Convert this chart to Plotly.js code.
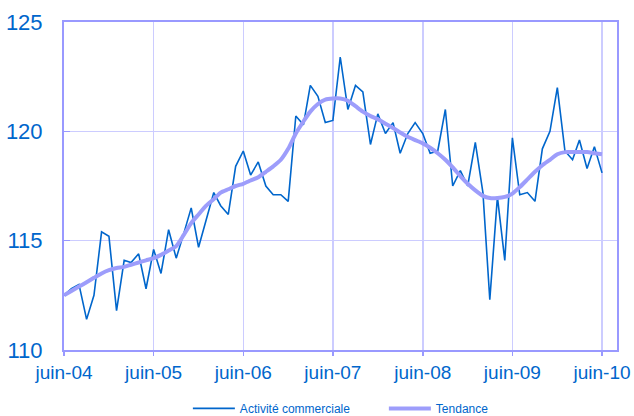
<!DOCTYPE html>
<html>
<head>
<meta charset="utf-8">
<script src="https://cdn.plot.ly/plotly-3.0.1.min.js"></script>
<style>
  html, body { margin: 0; padding: 0; background: #fff; }
  #chart { width: 634px; height: 416px; }
</style>
</head>
<body>
<div id="chart"></div>
<script>
// ---------------------------------------------------
// Data (monthly, juin-04 .. juin-10)
// ---------------------------------------------------
const startYear = 2004;
const startMonth = 6;

const activite = [
  112.5, 112.8, 113.0, 111.4, 112.5, 115.4, 115.2, 111.8, 114.1, 114.0,
  114.4, 112.8, 114.6, 113.5, 115.5, 114.2, 115.3, 116.5, 114.7, 116.0,
  117.2, 116.6, 116.2, 118.4, 119.1, 118.0, 118.6, 117.5, 117.1, 117.1,
  116.8, 120.7, 120.3, 122.1, 121.6, 120.4, 120.5, 123.4, 121.0, 122.1,
  121.8, 119.4, 120.8, 119.9, 120.4, 119.0, 119.9, 120.4, 119.9, 119.0,
  119.1, 121.0, 117.5, 118.2, 117.5, 119.5, 117.2, 112.3, 117.0, 114.1,
  119.7, 117.1, 117.2, 116.8, 119.2, 120.0, 122.0, 119.1, 118.7, 119.6,
  118.3, 119.3, 118.1
];

const tendance = [
  112.5, 112.7, 112.9, 113.1, 113.3, 113.5, 113.65, 113.75, 113.8, 113.9,
  114.0, 114.1, 114.2, 114.35, 114.55, 114.75, 115.25, 115.8, 116.2, 116.6,
  116.9, 117.2, 117.35, 117.5, 117.6, 117.75, 117.9, 118.15, 118.4, 118.7,
  119.2, 119.9, 120.45, 120.9, 121.25, 121.45, 121.5, 121.5, 121.4, 121.15,
  120.9, 120.7, 120.55, 120.35, 120.15, 119.95, 119.75, 119.6, 119.45, 119.25,
  119.0, 118.7, 118.35, 117.95, 117.6, 117.3, 117.05, 116.95, 116.95, 117.0,
  117.15, 117.45, 117.8, 118.15, 118.45, 118.7, 118.95, 119.05, 119.05, 119.05,
  119.05, 119.0, 118.95
];

const tickYears = [2004, 2005, 2006, 2007, 2008, 2009, 2010];
const tickLabels = ["juin-04", "juin-05", "juin-06", "juin-07", "juin-08", "juin-09", "juin-10"];

// ---------------------------------------------------
// Helpers
// ---------------------------------------------------
const pad2 = (n) => String(n).padStart(2, "0");
const monthDate = (i) => {
  const m = startMonth - 1 + i;
  return `${startYear + Math.floor(m / 12)}-${pad2((m % 12) + 1)}-01`;
};
const months = activite.map((_, i) => monthDate(i));

const BLUE = "#0066cc";
const LAVENDER = "#9d9dfb";
const FONT = "Arial, 'Liberation Sans', sans-serif";

// ---------------------------------------------------
// Plotting
// ---------------------------------------------------
const traces = [
  {
    x: months,
    y: activite,
    name: "Activité commerciale",
    type: "scatter",
    mode: "lines",
    line: { color: BLUE, width: 1.6 },
  },
  {
    x: months,
    y: tendance,
    name: "Tendance",
    type: "scatter",
    mode: "lines",
    line: { color: LAVENDER, width: 4, shape: "spline", smoothing: 0.6 },
  },
];

const layout = {
  width: 634,
  height: 416,
  margin: { l: 64, r: 17, t: 22, b: 66, pad: 0, autoexpand: false },
  paper_bgcolor: "#fff",
  plot_bgcolor: "#fff",
  font: { family: FONT, color: BLUE },
  showlegend: true,
  legend: {
    orientation: "h",
    x: 0.224,
    xanchor: "left",
    y: -0.178,
    yanchor: "middle",
    font: { family: FONT, size: 12, color: BLUE },
    itemwidth: 42,
    entrywidth: 139,
    entrywidthmode: "pixels",
  },
  xaxis: {
    type: "date",
    range: ["2004-06-01", "2010-08-01"],
    tickvals: tickYears.map((y) => `${y}-06-01`),
    ticktext: tickLabels,
    tickfont: { family: FONT, size: 19, color: BLUE },
    showgrid: true,
    gridcolor: "#ccccff",
    gridwidth: 1.5,
    showline: true,
    mirror: true,
    linecolor: "#9999ff",
    linewidth: 2,
    ticks: "outside",
    ticklen: 4,
    tickcolor: "#9999ff",
    tickwidth: 1.5,
    zeroline: false,
    fixedrange: true,
  },
  yaxis: {
    range: [110, 125],
    dtick: 5,
    tickfont: { family: FONT, size: 22, color: BLUE },
    showgrid: true,
    gridcolor: "#ccccff",
    gridwidth: 1.5,
    showline: true,
    mirror: true,
    linecolor: "#9999ff",
    linewidth: 2,
    ticks: "inside",
    ticklen: 6,
    tickcolor: "#9999ff",
    tickwidth: 1.5,
    ticklabelstandoff: 15,
    zeroline: false,
    fixedrange: true,
  },
};

Plotly.newPlot("chart", traces, layout, { staticPlot: true });
</script>
</body>
</html>
